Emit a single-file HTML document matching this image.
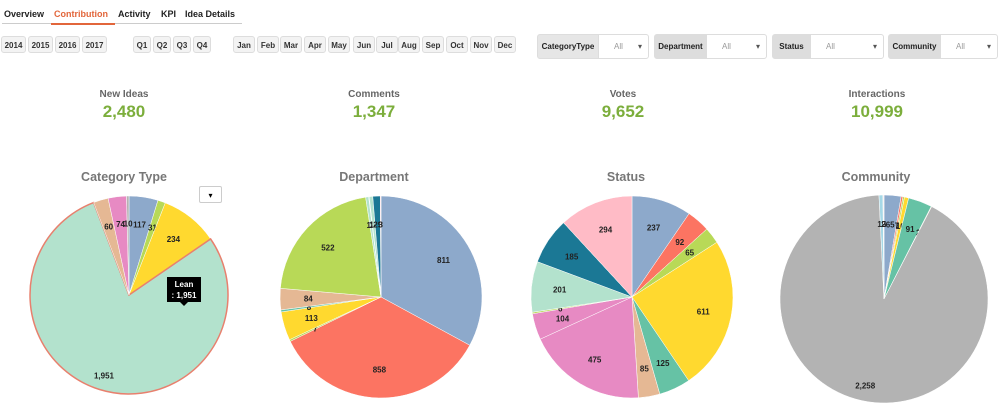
<!DOCTYPE html>
<html><head><meta charset="utf-8">
<style>
body{margin:0;width:1000px;height:406px;background:#fff;font-family:"Liberation Sans",Arial,sans-serif;position:relative;overflow:hidden}
.abs{position:absolute}
.tab{position:absolute;top:9px;font-size:9px;font-weight:bold;color:#222}
.btn{position:absolute;top:36px;height:17px;border:1px solid #ddd;border-radius:3px;background:#f3f3f3;font-size:8px;font-weight:bold;color:#333;text-align:center;line-height:17px;box-sizing:border-box}
.lab{position:absolute;top:34px;height:25px;background:#e6e6e6;border:1px solid #ddd;border-radius:3px 0 0 3px;font-size:8px;font-weight:bold;color:#222;line-height:23px;text-align:center;box-sizing:border-box}
.sel{position:absolute;top:34px;height:25px;background:#fff;border:1px solid #ddd;border-radius:0 3px 3px 0;font-size:8px;color:#999;line-height:23px;padding-left:15px;box-sizing:border-box}
.sel:after{content:"▾";position:absolute;right:6px;color:#555;font-size:8px}
.kl{position:absolute;top:89px;width:160px;text-align:center;font-size:10px;font-weight:bold;color:#666}
.kv{position:absolute;top:102px;width:160px;text-align:center;font-size:17px;font-weight:bold;color:#7cae3c}
.ttl{position:absolute;top:170px;width:200px;text-align:center;font-size:12.5px;font-weight:bold;color:#777}
</style></head><body>
<div class="tab" style="left:4px">Overview</div>
<div class="tab" style="left:54px;color:#e2663b">Contribution</div>
<div class="tab" style="left:118px">Activity</div>
<div class="tab" style="left:161px">KPI</div>
<div class="tab" style="left:185px">Idea Details</div>
<div class="abs" style="left:2px;top:23px;width:240px;height:1px;background:#ccc"></div>
<div class="abs" style="left:51px;top:23px;width:64px;height:2px;background:#e2663b"></div>
<div id="btns"></div>
<div class="lab" style="left:537px;width:62px">CategoryType</div>
<div class="sel" style="left:598px;width:51px">All</div>
<div class="lab" style="left:654px;width:53px;background:#ddd">Department</div>
<div class="sel" style="left:706px;width:61px">All</div>
<div class="lab" style="left:772px;width:39px;background:#ddd">Status</div>
<div class="sel" style="left:810px;width:74px">All</div>
<div class="lab" style="left:888px;width:53px;background:#ddd">Community</div>
<div class="sel" style="left:940px;width:58px">All</div>

<div class="kl" style="left:44px">New Ideas</div>
<div class="kv" style="left:44px">2,480</div>
<div class="kl" style="left:294px">Comments</div>
<div class="kv" style="left:294px">1,347</div>
<div class="kl" style="left:543px">Votes</div>
<div class="kv" style="left:543px">9,652</div>
<div class="kl" style="left:797px">Interactions</div>
<div class="kv" style="left:797px">10,999</div>

<div class="ttl" style="left:24px">Category Type</div>
<div class="ttl" style="left:274px">Department</div>
<div class="ttl" style="left:526px">Status</div>
<div class="ttl" style="left:776px">Community</div>
<div class="abs" style="left:199px;top:186px;width:23px;height:17px;border:1px solid #ccc;border-radius:2px;font-size:8px;text-align:center;line-height:17px;box-sizing:border-box">▾</div>

<svg id="svg" class="abs" style="left:0;top:0" width="1000" height="406"></svg>
<div class="abs" style="left:167px;top:277px;width:34px;height:25px;background:#000;color:#fff;font-size:8px;font-weight:bold;text-align:center;line-height:11px;padding-top:2px;box-sizing:border-box">Lean<br>: 1,951</div>
<div class="abs" style="left:180px;top:302px;width:0;height:0;border-left:4px solid transparent;border-right:4px solid transparent;border-top:4px solid #000"></div>
<script>
const yearLabels=["2014","2015","2016","2017"];
const yearX=[1,28,55,82];
const qLabels=["Q1","Q2","Q3","Q4"];
const qX=[133,153,173,193];
const mLabels=["Jan","Feb","Mar","Apr","May","Jun","Jul","Aug","Sep","Oct","Nov","Dec"];
const mX=[233,257,280,304,328,353,376,398,422,446,470,494];
const bc=document.getElementById('btns');
function mk(labels,xs,w){labels.forEach((t,i)=>{const d=document.createElement('div');d.className='btn';d.style.left=xs[i]+'px';d.style.width=w+'px';d.textContent=t;


bc.appendChild(d);});}
mk(yearLabels,yearX,25);mk(qLabels,qX,18);mk(mLabels,mX,22);

const C={blue:"#8DA9CB",red:"#FC7462",lime:"#B8D957",yellow:"#FFD92F",teal:"#66C2A5",tan:"#E5B894",pink:"#E78AC3",mint:"#B3E2CD",dark:"#1B7895",lpink:"#FFBBC6",grey:"#B3B3B3",lblue:"#A6D8E6"};
const catValues=[117,31,234,1951,60,74,10];
const catColors=[C.blue,C.lime,C.yellow,C.mint,C.tan,C.pink,C.grey];
const depValues=[811,858,7,113,8,84,522,12,2,14,29,3];
const depColors=[C.blue,C.red,C.lime,C.yellow,C.teal,C.tan,C.lime,C.mint,C.lblue,C.mint,C.dark,C.lpink];
const staValues=[237,92,65,611,125,85,475,104,6,201,185,294];
const staColors=[C.blue,C.red,C.lime,C.yellow,C.teal,C.tan,C.pink,C.pink,C.lime,C.mint,C.dark,C.lpink];
const comValues=[65,7,6,16,91,2,2258,15,2,2];
const comColors=[C.blue,C.red,C.lime,C.yellow,C.teal,C.tan,C.grey,C.lblue,C.mint,C.lpink];
const svg=document.getElementById('svg');const NS="http://www.w3.org/2000/svg";
function pie(name,vals,cols,cx,cy,r,hl){
  const tot=vals.reduce((a,b)=>a+b,0);let a0=0;
  vals.forEach((v,i)=>{
    const a1=a0+v/tot*2*Math.PI;
    const x0=cx+r*Math.sin(a0),y0=cy-r*Math.cos(a0),x1=cx+r*Math.sin(a1),y1=cy-r*Math.cos(a1);
    const p=document.createElementNS(NS,'path');
    p.setAttribute('d',`M${cx},${cy}L${x0},${y0}A${r},${r} 0 ${a1-a0>Math.PI?1:0} 1 ${x1},${y1}Z`);
    p.setAttribute('fill',cols[i]);
    p.setAttribute('stroke',i===hl?'#E8806E':'#fff');p.setAttribute('stroke-width',i===hl?1.5:0.5);
    
    
    svg.appendChild(p);
    const am=(a0+a1)/2,lr=r*(v/tot>0.5?0.85:0.72);
    const t=document.createElementNS(NS,'text');
    t.setAttribute('x',cx+lr*Math.sin(am));t.setAttribute('y',cy-lr*Math.cos(am)+3);
    t.setAttribute('text-anchor','middle');t.setAttribute('font-size','8');t.setAttribute('font-weight','bold');t.setAttribute('fill','#222');
    t.setAttribute('font-family','Liberation Sans, sans-serif');
    t.textContent=v.toLocaleString('en-US');
    
    
    svg.appendChild(t);
    a0=a1;});
}
pie('category-type',catValues,catColors,129,295,99,3);
pie('department',depValues,depColors,381,297,101,-1);
pie('status',staValues,staColors,632,297,101,-1);
pie('community',comValues,comColors,884,299,104,-1);
</script>
</body></html>
